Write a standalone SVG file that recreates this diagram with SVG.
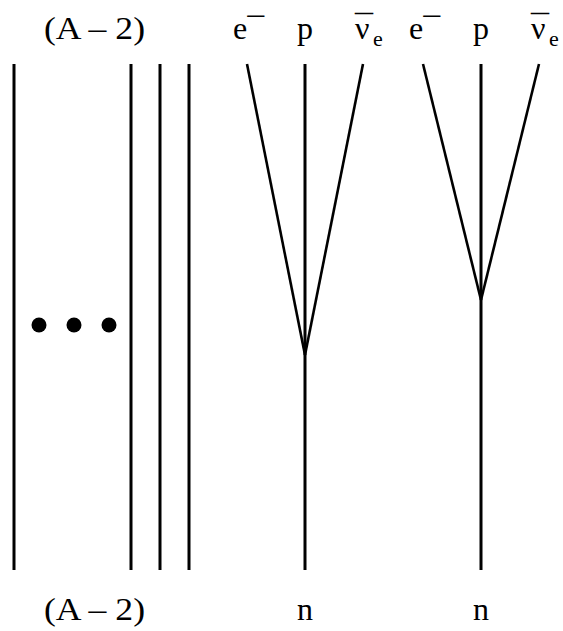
<svg xmlns="http://www.w3.org/2000/svg" width="563" height="631" viewBox="0 0 563 631">
<style>
text{font-family:"Liberation Serif","Times New Roman",serif;font-size:32px;fill:#000}
.s{font-size:22px}
.l{stroke:#000;stroke-width:3;fill:none}
.d{stroke:#000;stroke-width:2.6;fill:none}
</style>
<rect width="563" height="631" fill="#fff"/>
<g id="connectors">
<line class="l" x1="14" y1="64" x2="14" y2="570"/>
<line class="l" x1="131" y1="64" x2="131" y2="570"/>
<line class="l" x1="160" y1="64" x2="160" y2="570"/>
<line class="l" x1="189" y1="64" x2="189" y2="570"/>
<line class="l" x1="305" y1="64" x2="305" y2="570"/>
<line class="d" x1="247" y1="64" x2="305" y2="355"/>
<line class="d" x1="363" y1="64" x2="305" y2="355"/>
<line class="l" x1="481" y1="64" x2="481" y2="570"/>
<line class="d" x1="423" y1="64" x2="481" y2="300"/>
<line class="d" x1="539" y1="64" x2="481" y2="300"/>
</g>
<g id="dots">
<circle cx="39" cy="325" r="7.5"/>
<circle cx="74" cy="325" r="7.5"/>
<circle cx="109" cy="325" r="7.5"/>
</g>
<g id="label-top-A">
<text x="44" y="39" textLength="101" lengthAdjust="spacingAndGlyphs">(A – 2)</text>
</g>
<g id="label-bottom-A">
<text x="44" y="620" textLength="101" lengthAdjust="spacingAndGlyphs">(A – 2)</text>
</g>
<g id="label-e1">
<text x="233" y="39">e</text>
<text x="245" y="27" textLength="21" lengthAdjust="spacingAndGlyphs">−</text>
</g>
<g id="label-p1"><text x="305" y="39" text-anchor="middle">p</text></g>
<g id="label-nu1">
<text x="355" y="39">ν</text>
<text class="s" x="373" y="46">e</text>
<text x="355" y="37" textLength="18" lengthAdjust="spacingAndGlyphs">¯</text>
</g>
<g id="label-e2">
<text x="409" y="39">e</text>
<text x="421" y="27" textLength="21" lengthAdjust="spacingAndGlyphs">−</text>
</g>
<g id="label-p2"><text x="481" y="39" text-anchor="middle">p</text></g>
<g id="label-nu2">
<text x="531" y="39">ν</text>
<text class="s" x="549" y="46">e</text>
<text x="531" y="37" textLength="18" lengthAdjust="spacingAndGlyphs">¯</text>
</g>
<g id="label-n1"><text x="305" y="620" text-anchor="middle">n</text></g>
<g id="label-n2"><text x="481" y="620" text-anchor="middle">n</text></g>
</svg>
